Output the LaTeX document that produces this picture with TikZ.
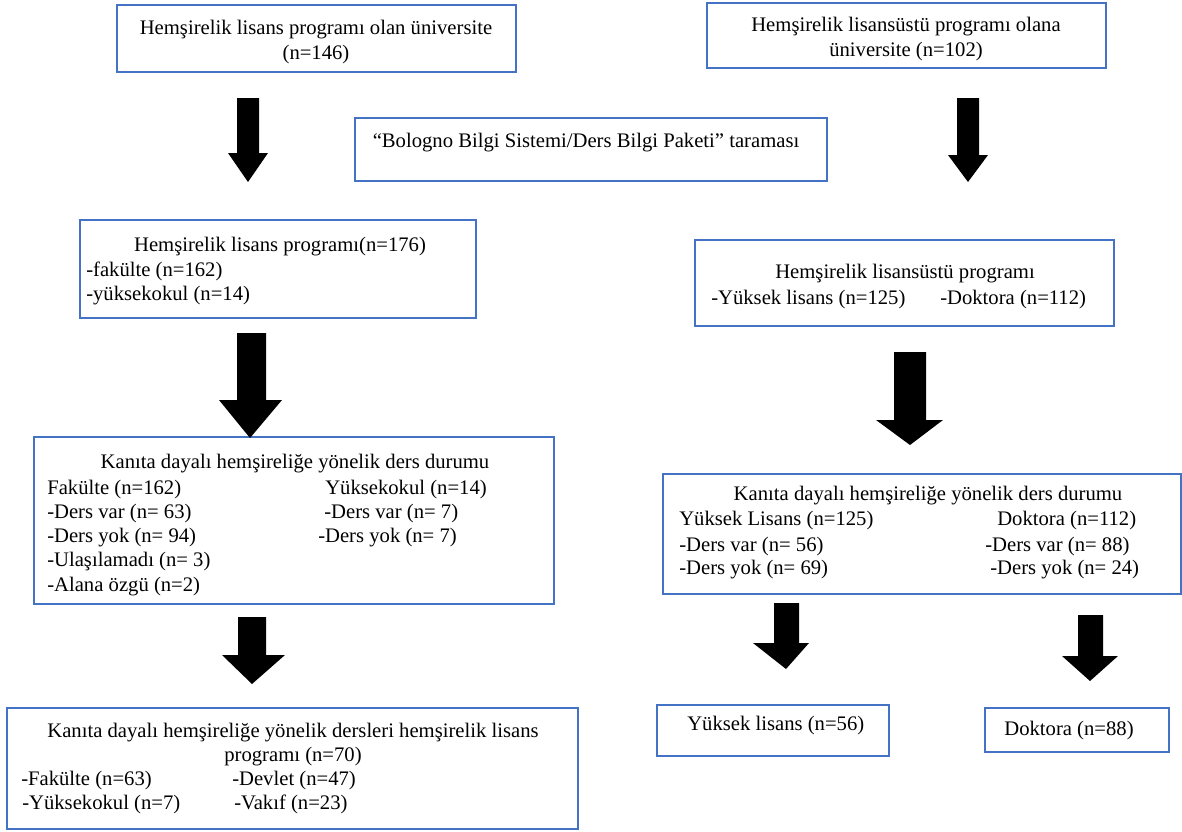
\documentclass[tikz,border=0pt]{standalone}
\usepackage{fontspec}
\setmainfont{Liberation Serif}
\usetikzlibrary{fit}
\definecolor{boxblue}{HTML}{4472C4}
\tikzset{
  box/.style={draw=boxblue, line width=0.9pt, inner sep=0pt},
  txt/.style={inner sep=0pt, font=\fontsize{15.5}{18}\selectfont, anchor=base},
  txtl/.style={txt, anchor=base west},
  blockarrow/.style={fill=black}
}
\begin{document}
\begin{tikzpicture}[x=0.75pt,y=-0.75pt]
\useasboundingbox (0,0) rectangle (1182,832);
% boxes
\node[box, fit={(117,5) (516,72)}] (A) {};
\node[box, fit={(707,3) (1106,68)}] (B) {};
\node[box, fit={(355,118) (827,181)}] (S) {};
\node[box, fit={(80,220) (476,318)}] (C) {};
\node[box, fit={(695,240) (1114,326)}] (D) {};
\node[box, fit={(34,437) (554,604)}] (E) {};
\node[box, fit={(663,474) (1181,594)}] (F) {};
\node[box, fit={(7,708) (578,829)}] (G) {};
\node[box, fit={(657,705) (889,756)}] (H) {};
\node[box, fit={(985,708) (1169,752)}] (I) {};
% texts
\node[txt] (a1) at (316,34) {Hemşirelik lisans programı olan üniversite};
\node[txt] (a2) at (316,59) {(n=146)};
\node[txt] (b1) at (906,31) {Hemşirelik lisansüstü programı olana};
\node[txt] (b2) at (906,56) {üniversite (n=102)};
\node[txt] (s1) at (586,147) {“Bologno Bilgi Sistemi/Ders Bilgi Paketi” taraması};
\node[txt] (c1) at (280,251) {Hemşirelik lisans programı(n=176)};
\node[txtl] (c2) at (86,276) {-fakülte (n=162)};
\node[txtl] (c3) at (86,300) {-yüksekokul (n=14)};
\node[txt] (d1) at (905,278) {Hemşirelik lisansüstü programı};
\node[txtl] (d2) at (711,304) {-Yüksek lisans (n=125)};
\node[txtl] (d3) at (940,304) {-Doktora (n=112)};
\node[txt] (e1) at (295,468) {Kanıta dayalı hemşireliğe yönelik ders durumu};
\node[txtl] (e2) at (47,494) {Fakülte (n=162)};
\node[txtl] (e3) at (47,518) {-Ders var (n= 63)};
\node[txtl] (e4) at (47,542) {-Ders yok (n= 94)};
\node[txtl] (e5) at (47,566) {-Ulaşılamadı (n= 3)};
\node[txtl] (e6) at (47,591) {-Alana özgü (n=2)};
\node[txtl] (e7) at (325,494) {Yüksekokul (n=14)};
\node[txtl] (e8) at (324,518) {-Ders var (n= 7)};
\node[txtl] (e9) at (318,542) {-Ders yok (n= 7)};
\node[txt] (f1) at (928,500) {Kanıta dayalı hemşireliğe yönelik ders durumu};
\node[txtl] (f2) at (679,525) {Yüksek Lisans (n=125)};
\node[txtl] (f3) at (679,551) {-Ders var (n= 56)};
\node[txtl] (f4) at (679,574) {-Ders yok (n= 69)};
\node[txtl] (f5) at (997,525) {Doktora (n=112)};
\node[txtl] (f6) at (985,551) {-Ders var (n= 88)};
\node[txtl] (f7) at (990,574) {-Ders yok (n= 24)};
\node[txt] (g1) at (293,737) {Kanıta dayalı hemşireliğe yönelik dersleri hemşirelik lisans};
\node[txt] (g2) at (293,761) {programı (n=70)};
\node[txtl] (g3) at (21,785) {-Fakülte (n=63)};
\node[txtl] (g4) at (22,809) {-Yüksekokul (n=7)};
\node[txtl] (g5) at (232,785) {-Devlet (n=47)};
\node[txtl] (g6) at (234,809) {-Vakıf (n=23)};
\node[txtl] (h1) at (687,730) {Yüksek lisans (n=56)};
\node[txt] (i1) at (1069,735) {Doktora (n=88)};
% block arrows
\fill[blockarrow] (237,98) -- (259,98) -- (259,153) -- (268,153) -- (248,182) -- (228,153) -- (237,153) -- cycle;
\fill[blockarrow] (957,98) -- (979,98) -- (979,155) -- (988,155) -- (968,182) -- (948,155) -- (957,155) -- cycle;
\fill[blockarrow] (237,333) -- (266,333) -- (266,400) -- (282,400) -- (250,438) -- (219,400) -- (237,400) -- cycle;
\fill[blockarrow] (894,352) -- (926,352) -- (926,420) -- (943,420) -- (910,445) -- (876,420) -- (894,420) -- cycle;
\fill[blockarrow] (238,617) -- (266,617) -- (266,655) -- (285,655) -- (252,684) -- (222,655) -- (238,655) -- cycle;
\fill[blockarrow] (774,603) -- (799,603) -- (799,643) -- (809,643) -- (786,669) -- (753,643) -- (774,643) -- cycle;
\fill[blockarrow] (1078,615) -- (1103,615) -- (1103,656) -- (1118,656) -- (1090,681) -- (1062,656) -- (1078,656) -- cycle;
\end{tikzpicture}
\end{document}
